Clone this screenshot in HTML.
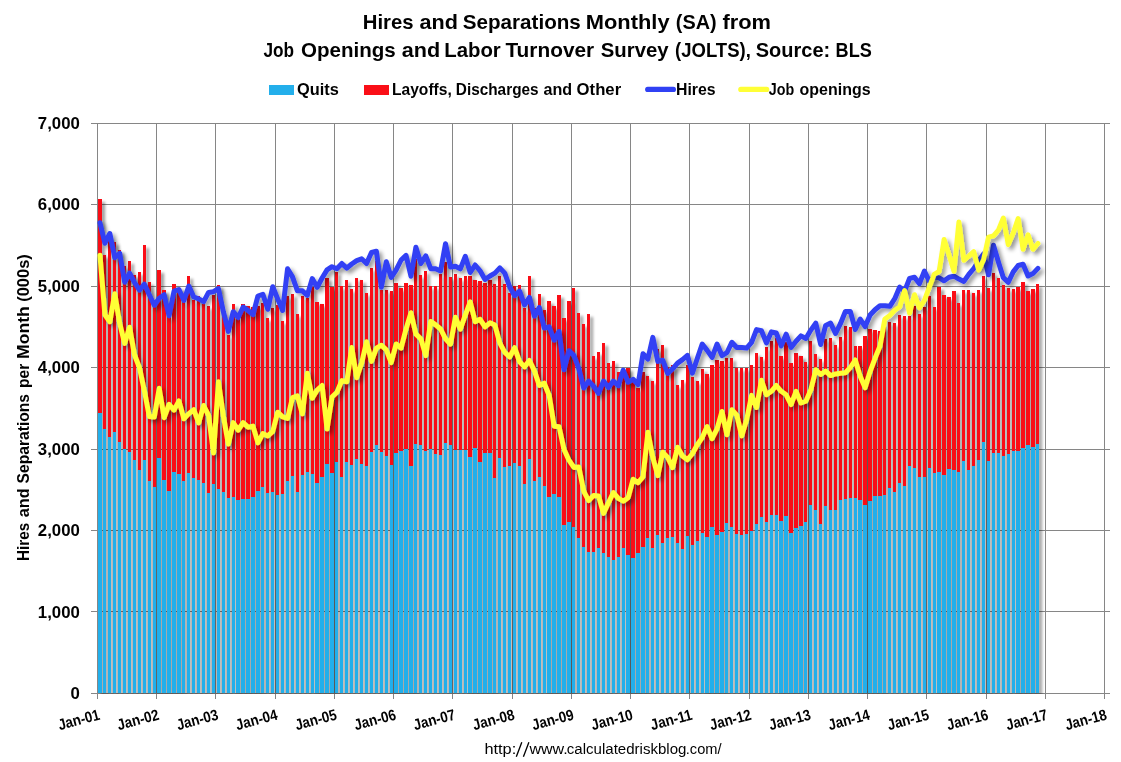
<!DOCTYPE html>
<html><head><meta charset="utf-8"><title>JOLTS</title>
<style>html,body{margin:0;padding:0;background:#fff;}body{width:1121px;height:762px;overflow:hidden;}svg{display:block;}text{font-family:"Liberation Sans",sans-serif;fill:#000;}</style></head><body>
<svg width="1121" height="762" viewBox="0 0 1121 762">
<defs>
<filter id="sb" x="-2%" y="-2%" width="104%" height="104%"><feGaussianBlur in="SourceAlpha" stdDeviation="1.5"/><feOffset dx="2.8" dy="2.8"/><feComponentTransfer><feFuncA type="linear" slope="0.4"/></feComponentTransfer><feMerge><feMergeNode/><feMergeNode in="SourceGraphic"/></feMerge></filter>
<filter id="sl" x="-2%" y="-10%" width="104%" height="120%"><feGaussianBlur in="SourceAlpha" stdDeviation="2"/><feOffset dx="3" dy="3"/><feComponentTransfer><feFuncA type="linear" slope="0.42"/></feComponentTransfer><feMerge><feMergeNode/><feMergeNode in="SourceGraphic"/></feMerge></filter>
<clipPath id="cp"><rect x="90" y="100" width="1031" height="594"/></clipPath>
</defs>
<rect width="1121" height="762" fill="#fff"/>
<path d="M91 693.5 H1110 M91 611.5 H1110 M91 530.5 H1110 M91 449.5 H1110 M91 367.5 H1110 M91 286.5 H1110 M91 204.5 H1110 M91 123.5 H1110 M97.5 123 V698.5 M156.5 123 V698.5 M215.5 123 V698.5 M275.5 123 V698.5 M334.5 123 V698.5 M393.5 123 V698.5 M452.5 123 V698.5 M512.5 123 V698.5 M571.5 123 V698.5 M630.5 123 V698.5 M689.5 123 V698.5 M749.5 123 V698.5 M808.5 123 V698.5 M867.5 123 V698.5 M926.5 123 V698.5 M986.5 123 V698.5 M1045.5 123 V698.5 M1104.5 123 V698.5" stroke="#868686" stroke-width="1" fill="none" shape-rendering="crispEdges"/>
<g clip-path="url(#cp)"><g filter="url(#sb)">
<path d="M98 199h4V413h-4zM103 255h3V429h-3zM108 237h3V437h-3zM113 242h3V432h-3zM118 250h3V442h-3zM123 266h3V449h-3zM128 261h3V452h-3zM133 275h3V460h-3zM138 272h3V470h-3zM143 245h3V460h-3zM148 282h3V481h-3zM153 306h3V487h-3zM157 270h4V458h-4zM162 290h4V480h-4zM167 317h4V491h-4zM172 284h4V472h-4zM177 288h4V474h-4zM182 302h3V481h-3zM187 276h3V473h-3zM192 300h3V478h-3zM197 296h3V480h-3zM202 304h3V483h-3zM207 306h3V493h-3zM212 295h3V484h-3zM217 285h3V489h-3zM222 313h3V492h-3zM227 335h3V498h-3zM232 304h3V497h-3zM236 319h4V500h-4zM241 304h4V499h-4zM246 306h4V499h-4zM251 307h4V497h-4zM256 306h4V491h-4zM261 303h3V487h-3zM266 318h3V493h-3zM271 308h3V492h-3zM276 305h3V495h-3zM281 321h3V494h-3zM286 296h3V481h-3zM291 294h3V476h-3zM296 314h3V492h-3zM301 296h3V475h-3zM306 298h3V472h-3zM311 287h3V474h-3zM315 302h4V483h-4zM320 304h4V477h-4zM325 278h4V464h-4zM330 287h4V473h-4zM335 272h3V462h-3zM340 286h3V477h-3zM345 280h3V462h-3zM350 289h3V465h-3zM355 278h3V459h-3zM360 280h3V464h-3zM365 293h3V466h-3zM370 268h3V452h-3zM375 261h3V445h-3zM380 290h3V452h-3zM385 290h3V456h-3zM390 291h3V465h-3zM394 283h4V453h-4zM399 288h4V451h-4zM404 283h4V449h-4zM409 285h4V466h-4zM414 259h3V444h-3zM419 275h3V445h-3zM424 271h3V451h-3zM429 286h3V449h-3zM434 286h3V454h-3zM439 274h3V455h-3zM444 262h3V443h-3zM449 277h3V445h-3zM454 274h3V450h-3zM459 278h3V450h-3zM464 276h3V450h-3zM468 276h4V457h-4zM473 280h4V448h-4zM478 281h4V462h-4zM483 283h4V453h-4zM488 280h4V453h-4zM493 284h3V478h-3zM498 276h3V458h-3zM503 284h3V467h-3zM508 293h3V466h-3zM513 286h3V463h-3zM518 285h3V466h-3zM523 308h3V484h-3zM528 276h3V459h-3zM533 308h3V481h-3zM538 294h3V477h-3zM543 310h3V486h-3zM547 301h4V497h-4zM552 306h4V494h-4zM557 295h4V497h-4zM562 318h4V525h-4zM567 301h4V522h-4zM572 288h3V527h-3zM577 313h3V538h-3zM582 324h3V547h-3zM587 314h3V552h-3zM592 356h3V552h-3zM597 352h3V548h-3zM602 343h3V553h-3zM607 363h3V557h-3zM612 361h3V560h-3zM617 372h3V557h-3zM622 371h3V548h-3zM626 368h4V555h-4zM631 382h4V558h-4zM636 388h4V553h-4zM641 372h4V547h-4zM646 376h3V538h-3zM651 381h3V548h-3zM656 349h3V535h-3zM661 345h3V543h-3zM666 367h3V538h-3zM671 365h3V537h-3zM676 385h3V543h-3zM681 380h3V549h-3zM686 365h3V536h-3zM691 377h3V545h-3zM696 381h3V541h-3zM701 369h3V533h-3zM705 374h4V537h-4zM710 365h4V527h-4zM715 360h4V535h-4zM720 361h4V532h-4zM725 358h3V523h-3zM730 358h3V527h-3zM735 368h3V534h-3zM740 368h3V535h-3zM745 368h3V534h-3zM750 365h3V531h-3zM755 353h3V524h-3zM760 357h3V517h-3zM765 347h3V522h-3zM770 341h3V515h-3zM775 338h3V515h-3zM779 356h4V521h-4zM784 342h4V516h-4zM789 363h4V533h-4zM794 353h4V528h-4zM799 356h4V526h-4zM804 362h3V522h-3zM809 341h3V505h-3zM814 354h3V510h-3zM819 359h3V524h-3zM824 339h3V506h-3zM829 338h3V510h-3zM834 345h3V510h-3zM839 337h3V500h-3zM844 326h3V499h-3zM849 327h3V498h-3zM854 346h3V498h-3zM858 346h4V500h-4zM863 336h4V505h-4zM868 329h4V501h-4zM873 330h4V496h-4zM878 331h4V496h-4zM883 327h3V495h-3zM888 322h3V488h-3zM893 323h3V492h-3zM898 315h3V483h-3zM903 316h3V486h-3zM908 316h3V466h-3zM913 306h3V468h-3zM918 314h3V477h-3zM923 307h3V477h-3zM928 296h3V468h-3zM933 307h3V473h-3zM937 287h4V472h-4zM942 295h4V475h-4zM947 297h4V469h-4zM952 291h4V470h-4zM957 303h3V472h-3zM962 290h3V461h-3zM967 290h3V470h-3zM972 293h3V466h-3zM977 290h3V460h-3zM982 276h3V442h-3zM987 288h3V461h-3zM992 273h3V453h-3zM997 278h3V453h-3zM1002 285h3V456h-3zM1007 288h3V454h-3zM1012 289h3V451h-3zM1016 287h4V451h-4zM1021 282h4V448h-4zM1026 291h4V445h-4zM1031 289h4V447h-4zM1036 284h3V444h-3z" fill="#FA0F17"/>
<path d="M98 413h4V693h-4zM103 429h3V693h-3zM108 437h3V693h-3zM113 432h3V693h-3zM118 442h3V693h-3zM123 449h3V693h-3zM128 452h3V693h-3zM133 460h3V693h-3zM138 470h3V693h-3zM143 460h3V693h-3zM148 481h3V693h-3zM153 487h3V693h-3zM157 458h4V693h-4zM162 480h4V693h-4zM167 491h4V693h-4zM172 472h4V693h-4zM177 474h4V693h-4zM182 481h3V693h-3zM187 473h3V693h-3zM192 478h3V693h-3zM197 480h3V693h-3zM202 483h3V693h-3zM207 493h3V693h-3zM212 484h3V693h-3zM217 489h3V693h-3zM222 492h3V693h-3zM227 498h3V693h-3zM232 497h3V693h-3zM236 500h4V693h-4zM241 499h4V693h-4zM246 499h4V693h-4zM251 497h4V693h-4zM256 491h4V693h-4zM261 487h3V693h-3zM266 493h3V693h-3zM271 492h3V693h-3zM276 495h3V693h-3zM281 494h3V693h-3zM286 481h3V693h-3zM291 476h3V693h-3zM296 492h3V693h-3zM301 475h3V693h-3zM306 472h3V693h-3zM311 474h3V693h-3zM315 483h4V693h-4zM320 477h4V693h-4zM325 464h4V693h-4zM330 473h4V693h-4zM335 462h3V693h-3zM340 477h3V693h-3zM345 462h3V693h-3zM350 465h3V693h-3zM355 459h3V693h-3zM360 464h3V693h-3zM365 466h3V693h-3zM370 452h3V693h-3zM375 445h3V693h-3zM380 452h3V693h-3zM385 456h3V693h-3zM390 465h3V693h-3zM394 453h4V693h-4zM399 451h4V693h-4zM404 449h4V693h-4zM409 466h4V693h-4zM414 444h3V693h-3zM419 445h3V693h-3zM424 451h3V693h-3zM429 449h3V693h-3zM434 454h3V693h-3zM439 455h3V693h-3zM444 443h3V693h-3zM449 445h3V693h-3zM454 450h3V693h-3zM459 450h3V693h-3zM464 450h3V693h-3zM468 457h4V693h-4zM473 448h4V693h-4zM478 462h4V693h-4zM483 453h4V693h-4zM488 453h4V693h-4zM493 478h3V693h-3zM498 458h3V693h-3zM503 467h3V693h-3zM508 466h3V693h-3zM513 463h3V693h-3zM518 466h3V693h-3zM523 484h3V693h-3zM528 459h3V693h-3zM533 481h3V693h-3zM538 477h3V693h-3zM543 486h3V693h-3zM547 497h4V693h-4zM552 494h4V693h-4zM557 497h4V693h-4zM562 525h4V693h-4zM567 522h4V693h-4zM572 527h3V693h-3zM577 538h3V693h-3zM582 547h3V693h-3zM587 552h3V693h-3zM592 552h3V693h-3zM597 548h3V693h-3zM602 553h3V693h-3zM607 557h3V693h-3zM612 560h3V693h-3zM617 557h3V693h-3zM622 548h3V693h-3zM626 555h4V693h-4zM631 558h4V693h-4zM636 553h4V693h-4zM641 547h4V693h-4zM646 538h3V693h-3zM651 548h3V693h-3zM656 535h3V693h-3zM661 543h3V693h-3zM666 538h3V693h-3zM671 537h3V693h-3zM676 543h3V693h-3zM681 549h3V693h-3zM686 536h3V693h-3zM691 545h3V693h-3zM696 541h3V693h-3zM701 533h3V693h-3zM705 537h4V693h-4zM710 527h4V693h-4zM715 535h4V693h-4zM720 532h4V693h-4zM725 523h3V693h-3zM730 527h3V693h-3zM735 534h3V693h-3zM740 535h3V693h-3zM745 534h3V693h-3zM750 531h3V693h-3zM755 524h3V693h-3zM760 517h3V693h-3zM765 522h3V693h-3zM770 515h3V693h-3zM775 515h3V693h-3zM779 521h4V693h-4zM784 516h4V693h-4zM789 533h4V693h-4zM794 528h4V693h-4zM799 526h4V693h-4zM804 522h3V693h-3zM809 505h3V693h-3zM814 510h3V693h-3zM819 524h3V693h-3zM824 506h3V693h-3zM829 510h3V693h-3zM834 510h3V693h-3zM839 500h3V693h-3zM844 499h3V693h-3zM849 498h3V693h-3zM854 498h3V693h-3zM858 500h4V693h-4zM863 505h4V693h-4zM868 501h4V693h-4zM873 496h4V693h-4zM878 496h4V693h-4zM883 495h3V693h-3zM888 488h3V693h-3zM893 492h3V693h-3zM898 483h3V693h-3zM903 486h3V693h-3zM908 466h3V693h-3zM913 468h3V693h-3zM918 477h3V693h-3zM923 477h3V693h-3zM928 468h3V693h-3zM933 473h3V693h-3zM937 472h4V693h-4zM942 475h4V693h-4zM947 469h4V693h-4zM952 470h4V693h-4zM957 472h3V693h-3zM962 461h3V693h-3zM967 470h3V693h-3zM972 466h3V693h-3zM977 460h3V693h-3zM982 442h3V693h-3zM987 461h3V693h-3zM992 453h3V693h-3zM997 453h3V693h-3zM1002 456h3V693h-3zM1007 454h3V693h-3zM1012 451h3V693h-3zM1016 451h4V693h-4zM1021 448h4V693h-4zM1026 445h4V693h-4zM1031 447h4V693h-4zM1036 444h3V693h-3z" fill="#23AFEB"/>
</g></g>
<path d="M99.97 222.8 L104.90 243.2 L109.84 233.5 L114.78 257.7 L119.71 253.4 L124.65 282.2 L129.59 273.2 L134.52 282.5 L139.46 290.1 L144.40 284.2 L149.33 294.7 L154.27 305.2 L159.21 298.2 L164.14 294.7 L169.08 315.7 L174.02 291.2 L178.95 289.5 L183.89 300.5 L188.83 286.0 L193.76 297.0 L198.70 298.8 L203.63 301.7 L208.57 292.4 L213.51 291.7 L218.44 288.7 L223.38 311.7 L228.32 331.4 L233.25 311.7 L238.19 317.5 L243.13 307.0 L248.06 310.5 L253.00 314.6 L257.94 296.0 L262.87 294.3 L267.81 309.3 L272.75 286.7 L277.68 298.9 L282.62 310.5 L287.56 268.8 L292.49 276.9 L297.43 290.8 L302.36 290.8 L307.30 295.4 L312.24 278.6 L317.17 287.3 L322.11 278.0 L327.05 269.9 L331.98 266.7 L336.92 268.7 L341.86 263.5 L346.79 268.1 L351.73 264.0 L356.67 260.6 L361.60 258.8 L366.54 263.5 L371.48 252.5 L376.41 251.3 L381.35 287.2 L386.29 261.7 L391.22 277.4 L396.16 269.8 L401.09 260.0 L406.03 255.4 L410.97 276.2 L415.90 247.2 L420.84 263.5 L425.78 255.9 L430.71 268.7 L435.65 268.7 L440.59 271.0 L445.52 243.8 L450.46 267.1 L455.40 266.3 L460.33 268.9 L465.27 256.3 L470.21 272.5 L475.14 265.0 L480.08 270.8 L485.02 279.5 L489.95 276.0 L494.89 273.1 L499.82 267.9 L504.76 273.1 L509.70 287.0 L514.63 295.7 L519.57 291.1 L524.51 304.9 L529.44 297.5 L534.38 316.2 L539.32 307.5 L544.25 328.0 L549.19 326.9 L554.13 340.2 L559.06 331.5 L564.00 369.8 L568.94 350.7 L573.87 355.4 L578.81 368.7 L583.75 388.0 L588.68 381.1 L593.62 386.3 L598.55 393.3 L603.49 381.1 L608.43 387.5 L613.36 381.1 L618.30 385.7 L623.24 370.1 L628.17 382.2 L633.11 379.3 L638.05 384.6 L642.98 353.8 L647.92 359.0 L652.86 337.4 L657.79 361.4 L662.73 360.2 L667.67 373.5 L672.60 368.9 L677.54 363.1 L682.48 359.6 L687.41 355.4 L692.35 373.2 L697.28 358.5 L702.22 344.0 L707.16 350.4 L712.09 357.4 L717.03 344.0 L721.97 355.6 L726.90 352.7 L731.84 342.3 L736.78 347.5 L741.71 347.5 L746.65 348.1 L751.59 342.3 L756.52 329.6 L761.46 330.7 L766.40 342.9 L771.33 331.9 L776.27 333.0 L781.21 345.8 L786.14 334.2 L791.08 347.5 L796.01 341.2 L800.95 335.9 L805.89 338.5 L810.82 330.1 L815.76 323.1 L820.70 344.5 L825.63 325.4 L830.57 323.1 L835.51 333.5 L840.44 323.7 L845.38 311.5 L850.32 311.5 L855.25 329.5 L860.19 319.0 L865.13 326.6 L870.06 315.0 L875.00 309.7 L879.94 305.7 L884.87 305.7 L889.81 306.3 L894.74 298.7 L899.68 287.1 L904.62 291.2 L909.55 278.4 L914.49 277.3 L919.43 283.7 L924.36 271.1 L929.30 281.2 L934.24 277.1 L939.17 277.9 L944.11 280.8 L949.05 277.3 L953.98 276.2 L958.92 279.1 L963.86 281.4 L968.79 274.4 L973.73 268.5 L978.67 260.9 L983.60 253.9 L988.54 274.8 L993.47 245.2 L998.41 262.0 L1003.35 277.7 L1008.28 282.3 L1013.22 271.9 L1018.16 265.5 L1023.09 264.3 L1028.03 275.9 L1032.97 273.6 L1037.90 268.4" fill="none" stroke="#3041F4" stroke-width="5" stroke-linejoin="round" stroke-linecap="round" filter="url(#sl)"/>
<path d="M99.97 255.2 L104.90 314.7 L109.84 321.7 L114.78 293.7 L119.71 323.5 L124.65 343.4 L129.59 327.2 L134.52 355.0 L139.46 367.7 L144.40 390.9 L149.33 416.5 L154.27 417.1 L159.21 388.3 L164.14 417.7 L169.08 404.3 L174.02 410.1 L178.95 400.9 L183.89 418.8 L188.83 413.6 L193.76 409.6 L198.70 422.9 L203.63 405.5 L208.57 415.4 L213.51 453.0 L218.44 381.8 L223.38 416.2 L228.32 444.1 L233.25 422.6 L238.19 430.1 L243.13 422.6 L248.06 427.2 L253.00 426.1 L257.94 442.9 L262.87 433.6 L267.81 435.9 L272.75 431.3 L277.68 412.2 L282.62 416.8 L287.56 418.5 L292.49 397.7 L297.43 395.9 L302.36 413.9 L307.30 373.3 L312.24 398.2 L317.17 390.1 L322.11 385.5 L327.05 429.0 L331.98 397.1 L336.92 392.2 L341.86 380.6 L346.79 381.7 L351.73 347.5 L356.67 377.7 L361.60 363.2 L366.54 341.7 L371.48 361.4 L376.41 348.1 L381.35 345.2 L386.29 349.8 L391.22 362.6 L396.16 344.0 L401.09 348.1 L406.03 329.0 L410.97 312.7 L415.90 334.2 L420.84 338.8 L425.78 355.6 L430.71 321.4 L435.65 324.9 L440.59 329.0 L445.52 338.8 L450.46 344.2 L455.40 317.2 L460.33 329.1 L465.27 315.2 L470.21 301.9 L475.14 321.7 L480.08 319.3 L485.02 326.9 L489.95 322.8 L494.89 325.1 L499.82 343.1 L504.76 352.4 L509.70 357.0 L514.63 347.7 L519.57 361.7 L524.51 366.9 L529.44 360.5 L534.38 370.9 L539.32 385.5 L544.25 383.2 L549.19 395.5 L554.13 426.2 L559.06 426.8 L564.00 449.4 L568.94 460.2 L573.87 467.4 L578.81 467.0 L583.75 491.3 L588.68 500.6 L593.62 495.4 L598.55 496.0 L603.49 513.4 L608.43 502.9 L613.36 492.5 L618.30 498.3 L623.24 501.2 L628.17 497.7 L633.11 479.2 L638.05 482.6 L642.98 476.8 L647.92 432.3 L652.86 457.7 L657.79 475.7 L662.73 452.2 L667.67 457.4 L672.60 467.6 L677.54 447.3 L682.48 456.0 L687.41 459.8 L692.35 453.7 L697.28 444.7 L702.22 437.6 L707.16 426.6 L712.09 438.7 L717.03 428.9 L721.97 411.5 L726.90 434.7 L731.84 409.8 L736.78 415.1 L741.71 435.9 L746.65 419.7 L751.59 395.4 L756.52 407.5 L761.46 380.3 L766.40 394.8 L771.33 391.3 L776.27 385.5 L781.21 391.3 L786.14 394.8 L791.08 404.6 L796.01 391.3 L800.95 402.9 L805.89 401.2 L810.82 389.8 L815.76 369.8 L820.70 374.5 L825.63 371.0 L830.57 375.6 L835.51 373.9 L840.44 373.3 L845.38 372.7 L850.32 367.5 L855.25 360.0 L860.19 376.2 L865.13 387.8 L870.06 371.6 L875.00 358.3 L879.94 346.2 L884.87 319.0 L889.81 315.5 L894.74 310.3 L899.68 306.8 L904.62 290.6 L909.55 313.2 L914.49 294.7 L919.43 308.0 L924.36 300.5 L929.30 287.2 L934.24 274.3 L939.17 271.3 L944.11 239.4 L949.05 255.1 L953.98 271.3 L958.92 222.0 L963.86 260.3 L968.79 256.2 L973.73 251.6 L978.67 270.1 L983.60 259.7 L988.54 237.1 L993.47 235.9 L998.41 230.1 L1003.35 218.0 L1008.28 244.6 L1013.22 233.0 L1018.16 218.5 L1023.09 249.3 L1028.03 234.8 L1032.97 249.3 L1037.90 243.5" fill="none" stroke="#FFFF36" stroke-width="5" stroke-linejoin="round" stroke-linecap="round" filter="url(#sl)"/>
<g opacity="0.999">
<rect x="269" y="85" width="25" height="10" fill="#23AFEB"/>
<rect x="364" y="85" width="25" height="10" fill="#FA0F17"/>
<path d="M647.7 89.4H673.4" stroke="#3041F4" stroke-width="5.2" stroke-linecap="round"/>
<path d="M740.8 89.4H766.7" stroke="#FFFF36" stroke-width="5.2" stroke-linecap="round"/>
<text x="362.80" y="28.8" font-size="20.6" font-weight="bold" textLength="50.80" lengthAdjust="spacingAndGlyphs">Hires</text>
<text x="419.60" y="28.8" font-size="20.6" font-weight="bold" textLength="38.40" lengthAdjust="spacingAndGlyphs">and</text>
<text x="462.80" y="28.8" font-size="20.6" font-weight="bold" textLength="118.00" lengthAdjust="spacingAndGlyphs">Separations</text>
<text x="585.80" y="28.8" font-size="20.6" font-weight="bold" textLength="83.80" lengthAdjust="spacingAndGlyphs">Monthly</text>
<text x="675.80" y="28.8" font-size="20.6" font-weight="bold" textLength="40.80" lengthAdjust="spacingAndGlyphs">(SA)</text>
<text x="722.40" y="28.8" font-size="20.6" font-weight="bold" textLength="48.60" lengthAdjust="spacingAndGlyphs">from</text>
<text x="263.40" y="57" font-size="20.6" font-weight="bold" textLength="30.60" lengthAdjust="spacingAndGlyphs">Job</text>
<text x="301.00" y="57" font-size="20.6" font-weight="bold" textLength="94.80" lengthAdjust="spacingAndGlyphs">Openings</text>
<text x="401.80" y="57" font-size="20.6" font-weight="bold" textLength="38.40" lengthAdjust="spacingAndGlyphs">and</text>
<text x="444.20" y="57" font-size="20.6" font-weight="bold" textLength="56.60" lengthAdjust="spacingAndGlyphs">Labor</text>
<text x="505.40" y="57" font-size="20.6" font-weight="bold" textLength="88.80" lengthAdjust="spacingAndGlyphs">Turnover</text>
<text x="600.80" y="57" font-size="20.6" font-weight="bold" textLength="67.80" lengthAdjust="spacingAndGlyphs">Survey</text>
<text x="675.00" y="57" font-size="20.6" font-weight="bold" textLength="75.80" lengthAdjust="spacingAndGlyphs">(JOLTS),</text>
<text x="755.80" y="57" font-size="20.6" font-weight="bold" textLength="74.40" lengthAdjust="spacingAndGlyphs">Source:</text>
<text x="835.60" y="57" font-size="20.6" font-weight="bold" textLength="36.20" lengthAdjust="spacingAndGlyphs">BLS</text>
<text x="297.00" y="94.6" font-size="16.2" font-weight="bold" textLength="41.80" lengthAdjust="spacingAndGlyphs">Quits</text>
<text x="392.00" y="94.6" font-size="16.2" font-weight="bold" textLength="59.80" lengthAdjust="spacingAndGlyphs">Layoffs,</text>
<text x="455.80" y="94.6" font-size="16.2" font-weight="bold" textLength="82.80" lengthAdjust="spacingAndGlyphs">Discharges</text>
<text x="543.60" y="94.6" font-size="16.2" font-weight="bold" textLength="28.60" lengthAdjust="spacingAndGlyphs">and</text>
<text x="576.60" y="94.6" font-size="16.2" font-weight="bold" textLength="44.60" lengthAdjust="spacingAndGlyphs">Other</text>
<text x="676.00" y="94.6" font-size="16.2" font-weight="bold" textLength="39.60" lengthAdjust="spacingAndGlyphs">Hires</text>
<text x="768.80" y="94.6" font-size="16.2" font-weight="bold" textLength="25.40" lengthAdjust="spacingAndGlyphs">Job</text>
<text x="799.60" y="94.6" font-size="16.2" font-weight="bold" textLength="71.00" lengthAdjust="spacingAndGlyphs">openings</text>
<text x="484.40" y="753.6" font-size="15.3" font-weight="normal" textLength="31.80" lengthAdjust="spacingAndGlyphs">http:</text>
<text x="529.40" y="753.6" font-size="15.3" font-weight="normal" textLength="38.40" lengthAdjust="spacingAndGlyphs">www.</text>
<text x="566.80" y="753.6" font-size="15.3" font-weight="normal" textLength="119.60" lengthAdjust="spacingAndGlyphs">calculatedriskblog</text>
<text x="685.80" y="753.6" font-size="15.3" font-weight="normal" textLength="35.80" lengthAdjust="spacingAndGlyphs">.com/</text>
<text transform="translate(29.20 561.00) rotate(-90)" font-size="16" font-weight="bold" textLength="38.20" lengthAdjust="spacingAndGlyphs">Hires</text>
<text transform="translate(29.20 517.20) rotate(-90)" font-size="16" font-weight="bold" textLength="28.80" lengthAdjust="spacingAndGlyphs">and</text>
<text transform="translate(29.20 483.40) rotate(-90)" font-size="16" font-weight="bold" textLength="89.40" lengthAdjust="spacingAndGlyphs">Separations</text>
<text transform="translate(29.20 388.00) rotate(-90)" font-size="16" font-weight="bold" textLength="24.20" lengthAdjust="spacingAndGlyphs">per</text>
<text transform="translate(29.20 359.00) rotate(-90)" font-size="16" font-weight="bold" textLength="52.80" lengthAdjust="spacingAndGlyphs">Month</text>
<text transform="translate(29.20 301.80) rotate(-90)" font-size="16" font-weight="bold" textLength="47.60" lengthAdjust="spacingAndGlyphs">(000s)</text>
<path d="M516.3 756.8L521.8 742.3M523.4 756.8L528.9 742.3" stroke="#000" stroke-width="1.35" fill="none"/>
<text x="79.8" y="698.9" font-size="16.8" font-weight="bold" text-anchor="end">0</text>
<text x="79.8" y="617.5" font-size="16.8" font-weight="bold" text-anchor="end">1,000</text>
<text x="79.8" y="536.0" font-size="16.8" font-weight="bold" text-anchor="end">2,000</text>
<text x="79.8" y="454.6" font-size="16.8" font-weight="bold" text-anchor="end">3,000</text>
<text x="79.8" y="373.2" font-size="16.8" font-weight="bold" text-anchor="end">4,000</text>
<text x="79.8" y="291.8" font-size="16.8" font-weight="bold" text-anchor="end">5,000</text>
<text x="79.8" y="210.3" font-size="16.8" font-weight="bold" text-anchor="end">6,000</text>
<text x="79.8" y="128.9" font-size="16.8" font-weight="bold" text-anchor="end">7,000</text>
<text transform="translate(100.7 719.2) rotate(-15)" font-size="15.4" font-weight="bold" text-anchor="end" textLength="42.5" lengthAdjust="spacingAndGlyphs">Jan-01</text>
<text transform="translate(159.9 719.2) rotate(-15)" font-size="15.4" font-weight="bold" text-anchor="end" textLength="42.5" lengthAdjust="spacingAndGlyphs">Jan-02</text>
<text transform="translate(219.2 719.2) rotate(-15)" font-size="15.4" font-weight="bold" text-anchor="end" textLength="42.5" lengthAdjust="spacingAndGlyphs">Jan-03</text>
<text transform="translate(278.4 719.2) rotate(-15)" font-size="15.4" font-weight="bold" text-anchor="end" textLength="42.5" lengthAdjust="spacingAndGlyphs">Jan-04</text>
<text transform="translate(337.7 719.2) rotate(-15)" font-size="15.4" font-weight="bold" text-anchor="end" textLength="42.5" lengthAdjust="spacingAndGlyphs">Jan-05</text>
<text transform="translate(396.9 719.2) rotate(-15)" font-size="15.4" font-weight="bold" text-anchor="end" textLength="42.5" lengthAdjust="spacingAndGlyphs">Jan-06</text>
<text transform="translate(456.1 719.2) rotate(-15)" font-size="15.4" font-weight="bold" text-anchor="end" textLength="42.5" lengthAdjust="spacingAndGlyphs">Jan-07</text>
<text transform="translate(515.4 719.2) rotate(-15)" font-size="15.4" font-weight="bold" text-anchor="end" textLength="42.5" lengthAdjust="spacingAndGlyphs">Jan-08</text>
<text transform="translate(574.6 719.2) rotate(-15)" font-size="15.4" font-weight="bold" text-anchor="end" textLength="42.5" lengthAdjust="spacingAndGlyphs">Jan-09</text>
<text transform="translate(633.8 719.2) rotate(-15)" font-size="15.4" font-weight="bold" text-anchor="end" textLength="42.5" lengthAdjust="spacingAndGlyphs">Jan-10</text>
<text transform="translate(693.1 719.2) rotate(-15)" font-size="15.4" font-weight="bold" text-anchor="end" textLength="42.5" lengthAdjust="spacingAndGlyphs">Jan-11</text>
<text transform="translate(752.3 719.2) rotate(-15)" font-size="15.4" font-weight="bold" text-anchor="end" textLength="42.5" lengthAdjust="spacingAndGlyphs">Jan-12</text>
<text transform="translate(811.6 719.2) rotate(-15)" font-size="15.4" font-weight="bold" text-anchor="end" textLength="42.5" lengthAdjust="spacingAndGlyphs">Jan-13</text>
<text transform="translate(870.8 719.2) rotate(-15)" font-size="15.4" font-weight="bold" text-anchor="end" textLength="42.5" lengthAdjust="spacingAndGlyphs">Jan-14</text>
<text transform="translate(930.0 719.2) rotate(-15)" font-size="15.4" font-weight="bold" text-anchor="end" textLength="42.5" lengthAdjust="spacingAndGlyphs">Jan-15</text>
<text transform="translate(989.3 719.2) rotate(-15)" font-size="15.4" font-weight="bold" text-anchor="end" textLength="42.5" lengthAdjust="spacingAndGlyphs">Jan-16</text>
<text transform="translate(1048.5 719.2) rotate(-15)" font-size="15.4" font-weight="bold" text-anchor="end" textLength="42.5" lengthAdjust="spacingAndGlyphs">Jan-17</text>
<text transform="translate(1107.7 719.2) rotate(-15)" font-size="15.4" font-weight="bold" text-anchor="end" textLength="42.5" lengthAdjust="spacingAndGlyphs">Jan-18</text>
</g>
</svg></body></html>
